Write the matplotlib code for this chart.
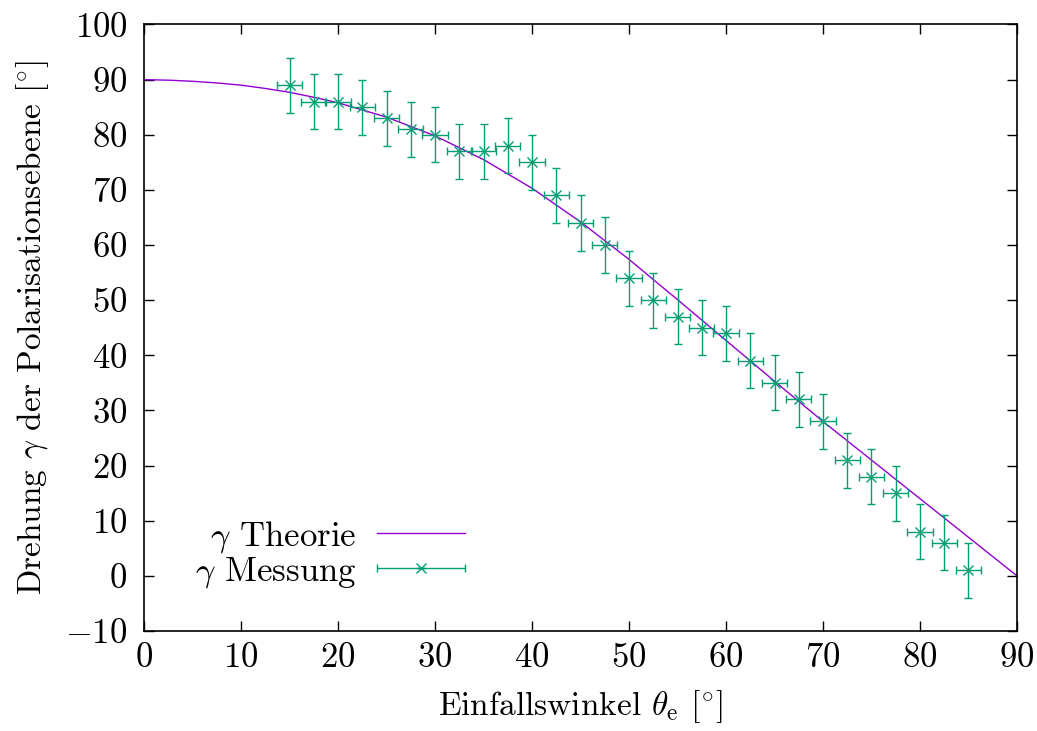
import matplotlib
matplotlib.use("Agg")
import matplotlib.pyplot as plt
from matplotlib.container import ErrorbarContainer
from matplotlib.legend_handler import HandlerErrorbar

plt.rcParams['font.family'] = 'cmr10'
plt.rcParams['mathtext.fontset'] = 'cm'
plt.rcParams['axes.formatter.use_mathtext'] = True
plt.rcParams['font.size'] = 25

# theory curve
theta_theo = [0, 2.5, 5, 7.5, 10, 12.5, 15, 17.5, 20, 25, 30, 35, 40, 45, 50, 55,
              60, 65, 70, 75, 80, 85, 90]
gamma_theo = [90.0, 89.9, 89.7, 89.4, 89.0, 88.4, 87.7, 86.8, 85.8, 83.2, 79.8, 75.5,
              70.3, 64.2, 57.4, 50.1, 42.7, 35.3, 28.0, 21.0, 14.0, 7.0, 0.0]

# measurement
theta_mess = [15, 17.5, 20, 22.5, 25, 27.5, 30, 32.5, 35, 37.5, 40, 42.5, 45, 47.5,
              50, 52.5, 55, 57.5, 60, 62.5, 65, 67.5, 70, 72.5, 75, 77.5, 80, 82.5, 85]
gamma_mess = [89, 86, 86, 85, 83, 81, 80, 77, 77, 78, 75, 69, 64, 60,
              54, 50, 47, 45, 44, 39, 35, 32, 28, 21, 18, 15, 8, 6, 1]
theta_err = 1.3
gamma_err = 5

fig = plt.figure(figsize=(10.37, 7.31), dpi=100)
ax = fig.add_axes([0.1389, 0.1368, 0.8418, 0.8297])

ax.plot(theta_theo, gamma_theo, color='#9400d3', lw=1.0, label=r'$\gamma$ Theorie')
ax.errorbar(theta_mess, gamma_mess, xerr=theta_err, yerr=gamma_err, fmt='x',
            color='#009e73', ms=7, mew=1.0, elinewidth=1.0, capsize=3, capthick=1.0,
            label=r'$\gamma$ Messung')

ax.set_xlim(0, 90)
ax.set_ylim(-10, 100)
ax.set_xticks(range(0, 91, 10))
ax.set_yticks(range(-10, 101, 10))
ax.tick_params(direction='in', length=7, width=1.0, top=True, right=True)
ax.tick_params(axis='x', pad=8)
ax.tick_params(axis='y', pad=12)
for s in ax.spines.values():
    s.set_linewidth(1.2)

ax.set_xlabel(r'Einfallswinkel $\theta_\mathrm{e}$ $[^{\circ}]$', fontsize=24, labelpad=10)
ax.set_ylabel(r'Drehung $\gamma$ der Polarisationsebene $[^{\circ}]$', fontsize=24, labelpad=10)

leg = ax.legend(loc='lower right', bbox_to_anchor=(0.368, 0.068), frameon=False,
                markerfirst=False, handlelength=2.54, handletextpad=0.6,
                labelspacing=0.0, borderaxespad=0.0, borderpad=0.0,
                handler_map={ErrorbarContainer: HandlerErrorbar(xerr_size=1.27, yerr_size=0)})
leg._legend_box._children[1]._children[0].align = 'right'

fig.savefig('out.png', dpi=100)
